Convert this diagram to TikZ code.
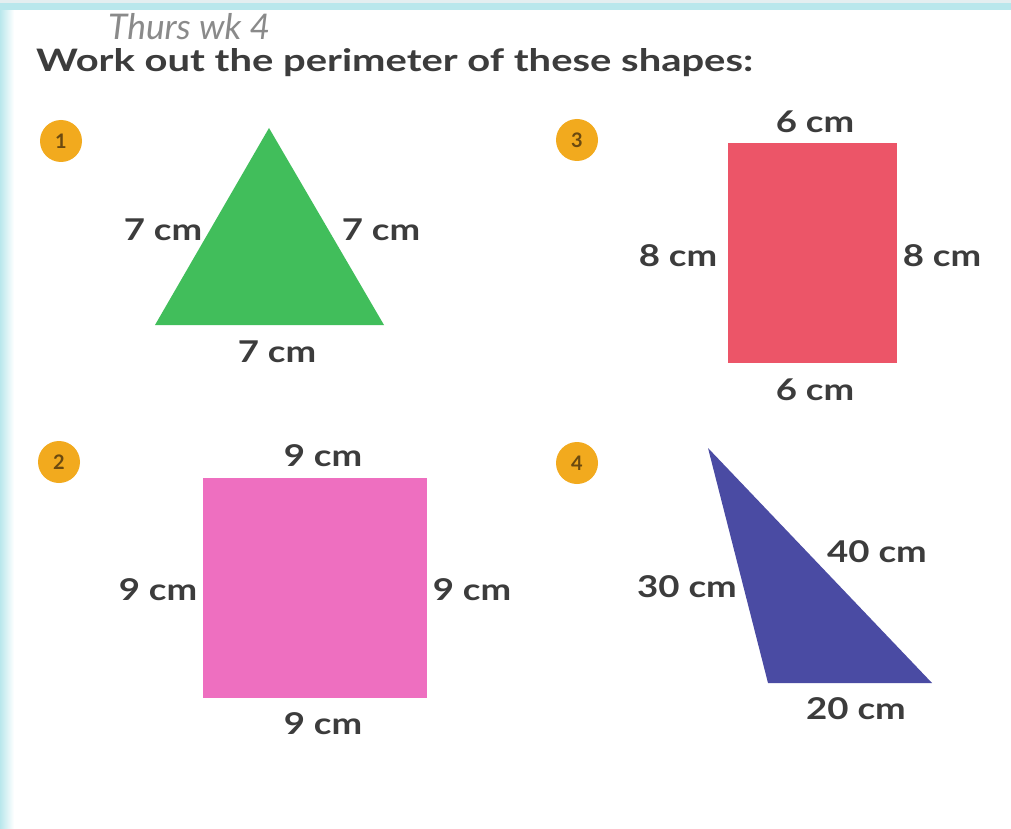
\documentclass[tikz,border=0pt]{standalone}
\usepackage{fontspec}
\setmainfont{Lato}
\usetikzlibrary{calc}
\definecolor{ink}{HTML}{3C3C3C}
\definecolor{bandcyan}{HTML}{B9E7EC}
\definecolor{bandgray}{HTML}{E4EEF0}
\definecolor{tgreen}{HTML}{41BE5B}
\definecolor{rred}{HTML}{EC5568}
\definecolor{spink}{HTML}{EE6FC0}
\definecolor{tnavy}{HTML}{4A4BA3}
\definecolor{badge}{HTML}{F2AA1E}
\definecolor{badgeink}{HTML}{6B4A10}
\definecolor{hand}{HTML}{8A8A8A}
\newcommand{\widetext}[1]{\scalebox{1.22}[1]{#1}}
\tikzset{
  lbl/.style={text=ink, font=\bfseries\fontsize{30}{30}\selectfont, inner sep=0pt, anchor=center},
  numbadge/.style={circle, fill=badge, minimum size=42pt, inner sep=0pt, text=badgeink, font=\bfseries\fontsize{20}{20}\selectfont},
}
\begin{document}
\begin{tikzpicture}[x=1pt,y=-1pt]
\useasboundingbox (0,0) rectangle (1011,829);
\fill[white] (0,0) rectangle (1011,829);
% page bands
\fill[left color=bandcyan, right color=white] (0,0) rectangle (14,829);
\fill[bandcyan] (0,0) rectangle (1011,10);
\fill[bandgray] (0,0) rectangle (1011,3);

% handwriting and title
\node[anchor=south west, text=hand, inner sep=0pt, font=\itshape\fontsize{32}{32}\selectfont] (hw) at (108,40) {\resizebox{162pt}{!}{Thurs wk 4}};
\node[anchor=base west, text=ink, inner sep=0pt, font=\bfseries\fontsize{31}{31}\selectfont] (title) at (36,72) {\resizebox{717pt}{23pt}{Work out the perimeter of these shapes:}};

% badges
\node[numbadge] (b1) at (61,141) {1};
\node[numbadge] (b2) at (59,462) {2};
\node[numbadge] (b3) at (577,140) {3};
\node[numbadge] (b4) at (577,463) {4};

% shape 1: equilateral triangle
\coordinate (t1a) at (269,128);
\coordinate (t1b) at (155,325);
\coordinate (t1c) at (384,325);
\fill[tgreen] (t1a) -- (t1b) -- (t1c) -- cycle;
\node[lbl] (l1a) at (163,230) {\widetext{7 cm}};
\node[lbl] (l1b) at (381,230) {\widetext{7 cm}};
\node[lbl] (l1c) at (277,352) {\widetext{7 cm}};

% shape 3: rectangle
\coordinate (r3a) at (728,143);
\coordinate (r3b) at (897,363);
\fill[rred] (r3a) rectangle (r3b);
\node[lbl] (l3t) at (815,122) {\widetext{6 cm}};
\node[lbl] (l3l) at (678,256) {\widetext{8 cm}};
\node[lbl] (l3r) at (942,256) {\widetext{8 cm}};
\node[lbl] (l3b) at (815,390) {\widetext{6 cm}};

% shape 2: square
\coordinate (s2a) at (203,478);
\coordinate (s2b) at (427,698);
\fill[spink] (s2a) rectangle (s2b);
\node[lbl] (l2t) at (323,456) {\widetext{9 cm}};
\node[lbl] (l2l) at (158,590) {\widetext{9 cm}};
\node[lbl] (l2r) at (472,590) {\widetext{9 cm}};
\node[lbl] (l2b) at (323,724) {\widetext{9 cm}};

% shape 4: scalene triangle
\coordinate (t4a) at (708,448);
\coordinate (t4b) at (768,683);
\coordinate (t4c) at (932,683);
\fill[tnavy] (t4a) -- (t4b) -- (t4c) -- cycle;
\node[lbl] (l4a) at (877,552) {\widetext{40 cm}};
\node[lbl] (l4b) at (687,587) {\widetext{30 cm}};
\node[lbl] (l4c) at (856,709) {\widetext{20 cm}};
\end{tikzpicture}
\end{document}
